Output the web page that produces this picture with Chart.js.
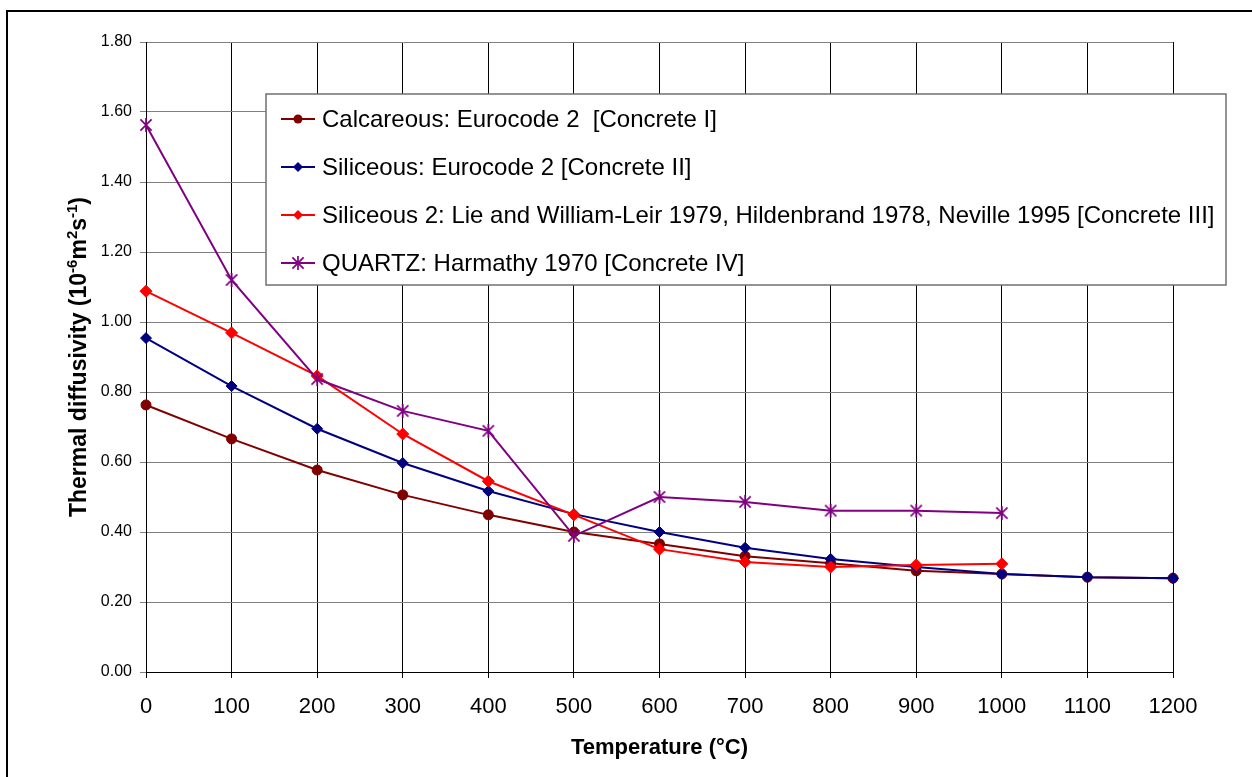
<!DOCTYPE html>
<html>
<head>
<meta charset="utf-8">
<script src="https://cdn.jsdelivr.net/npm/chart.js@4/dist/chart.umd.min.js"></script>
<style>
  html, body { margin: 0; padding: 0; background: #fff; }
  #wrap { width: 1252px; height: 777px; position: relative; }
</style>
</head>
<body>
<div id="wrap"><canvas id="c" width="1252" height="777"></canvas></div>
<script>
// ---- Data ----
const temperatures = [0, 100, 200, 300, 400, 500, 600, 700, 800, 900, 1000, 1100, 1200];
const calcareous  = [0.763, 0.666, 0.577, 0.506, 0.449, 0.400, 0.366, 0.331, 0.311, 0.289, 0.280, 0.271, 0.268];
const siliceous   = [0.954, 0.817, 0.695, 0.597, 0.517, 0.451, 0.400, 0.355, 0.323, 0.300, 0.280, 0.271, 0.268];
const siliceous2  = [1.088, 0.969, 0.846, 0.680, 0.545, 0.449, 0.351, 0.314, 0.300, 0.306, 0.309];
const quartz      = [1.563, 1.120, 0.837, 0.746, 0.689, 0.389, 0.500, 0.486, 0.461, 0.461, 0.454];
const seriesLabels = [
  'Calcareous: Eurocode 2  [Concrete I]',
  'Siliceous: Eurocode 2 [Concrete II]',
  'Siliceous 2: Lie and William-Leir 1979, Hildenbrand 1978, Neville 1995 [Concrete III]',
  'QUARTZ: Harmathy 1970 [Concrete IV]'
];
const xTitle = 'Temperature (°C)';
const yTitleParts = [['Thermal diffusivity (10', false], ['-6', true], ['m', false], ['2', true], ['s', false], ['-1', true], [')', false]];

const colors = ['#800000', '#000080', '#FF0000', '#800080'];

function pts(vals) { return vals.map((v, i) => ({ x: temperatures[i], y: v })); }

// asterisk marker (Excel style star)
function makeStar(color, size) {
  const c = document.createElement('canvas');
  c.width = size; c.height = size;
  const g = c.getContext('2d');
  const m = size / 2, r = size / 2 - 1;
  g.strokeStyle = color; g.lineWidth = 1.7;
  g.beginPath();
  g.moveTo(m - r * 0.8, m - r * 0.8); g.lineTo(m + r * 0.8, m + r * 0.8);
  g.moveTo(m + r * 0.8, m - r * 0.8); g.lineTo(m - r * 0.8, m + r * 0.8);
  g.moveTo(m, m - r); g.lineTo(m, m + r);
  g.stroke();
  return c;
}
const starImg = makeStar(colors[3], 16);

const datasets = [
  { label: seriesLabels[0], data: pts(calcareous), borderColor: colors[0], backgroundColor: colors[0],
    pointStyle: 'circle', pointRadius: 5, borderWidth: 2, order: 3 },
  { label: seriesLabels[1], data: pts(siliceous), borderColor: colors[1], backgroundColor: colors[1],
    pointStyle: 'rectRot', pointRadius: 5.5, borderWidth: 2, order: 2 },
  { label: seriesLabels[2], data: pts(siliceous2), borderColor: colors[2], backgroundColor: colors[2],
    pointStyle: 'rectRot', pointRadius: 6, borderWidth: 2, order: 1 },
  { label: seriesLabels[3], data: pts(quartz), borderColor: colors[3], backgroundColor: colors[3],
    pointStyle: starImg, pointRadius: 7, borderWidth: 2, order: 0 }
];
datasets.forEach(d => { d.pointBorderWidth = 1; d.pointBorderColor = d.borderColor; d.tension = 0; d.fill = false; d.clip = false; });

const frameAndTitles = {
  id: 'frameAndTitles',
  beforeDraw(chart) {
    const ctx = chart.ctx;
    ctx.save();
    ctx.fillStyle = '#fff';
    ctx.fillRect(0, 0, chart.width, chart.height);
    ctx.restore();
  },
  afterDraw(chart) {
    const ctx = chart.ctx;
    const area = chart.chartArea;
    ctx.save();
    // outer frame
    ctx.strokeStyle = '#000'; ctx.lineWidth = 2;
    ctx.beginPath();
    ctx.moveTo(7, 777); ctx.lineTo(7, 11); ctx.lineTo(1252, 11);
    ctx.stroke();

    // x title
    ctx.fillStyle = '#000';
    ctx.font = 'bold 22px "Liberation Sans", Arial, sans-serif';
    ctx.textAlign = 'center'; ctx.textBaseline = 'alphabetic';
    ctx.fillText(xTitle, (area.left + area.right) / 2, 754);

    // y title, rotated, with superscripts
    const big = 'bold 23px "Liberation Sans", Arial, sans-serif';
    const small = 'bold 15px "Liberation Sans", Arial, sans-serif';
    let total = 0;
    yTitleParts.forEach(([t, sup]) => { ctx.font = sup ? small : big; total += ctx.measureText(t).width; });
    ctx.translate(86, (area.top + area.bottom) / 2);
    ctx.rotate(-Math.PI / 2);
    ctx.textAlign = 'left';
    let x = -total / 2;
    yTitleParts.forEach(([t, sup]) => {
      ctx.font = sup ? small : big;
      ctx.fillText(t, x, sup ? -9 : 0);
      x += ctx.measureText(t).width;
    });
    ctx.restore();

    // legend box
    ctx.save();
    const lx = 266, ly = 94, lw = 960, lh = 191;
    ctx.fillStyle = '#fff';
    ctx.fillRect(lx, ly, lw, lh);
    ctx.strokeStyle = '#707070'; ctx.lineWidth = 1.5;
    ctx.strokeRect(lx, ly, lw, lh);
    const rows = [119, 167, 215, 263];
    chart.data.datasets.forEach((ds, i) => {
      const y = rows[i];
      ctx.strokeStyle = ds.borderColor; ctx.lineWidth = 2;
      ctx.beginPath(); ctx.moveTo(281, y); ctx.lineTo(315, y); ctx.stroke();
      const mx = 298;
      ctx.fillStyle = ds.borderColor;
      if (ds.pointStyle === 'circle') {
        ctx.beginPath(); ctx.arc(mx, y, 4.5, 0, Math.PI * 2); ctx.fill();
      } else if (ds.pointStyle === 'rectRot') {
        const r = 5;
        ctx.beginPath(); ctx.moveTo(mx, y - r); ctx.lineTo(mx + r, y); ctx.lineTo(mx, y + r); ctx.lineTo(mx - r, y); ctx.closePath(); ctx.fill();
      } else {
        ctx.drawImage(ds.pointStyle, mx - 8, y - 8);
      }
      ctx.fillStyle = '#000';
      ctx.font = '24px "Liberation Sans", Arial, sans-serif';
      ctx.textAlign = 'left'; ctx.textBaseline = 'middle';
      ctx.fillText(ds.label, 322, y + 1);
    });
    ctx.restore();
  }
};

new Chart(document.getElementById('c'), {
  type: 'line',
  data: { datasets },
  options: {
    responsive: false,
    animation: false,
    layout: { padding: { left: 0, right: 79, top: 42, bottom: 0 } },
    plugins: { legend: { display: false }, tooltip: { enabled: false } },
    scales: {
      x: {
        type: 'linear', min: 0, max: 1200,
        ticks: { stepSize: 100, color: '#000', padding: 16,
                 font: { family: '"Liberation Sans", Arial, sans-serif', size: 22 },
                 maxRotation: 0, autoSkip: false, callback: v => String(v) },
        grid: { color: '#000', lineWidth: 1, tickLength: 6, drawOnChartArea: true },
        border: { color: '#000', width: 1 },
        afterFit(s) { s.height = 105; }
      },
      y: {
        min: 0, max: 1.8,
        ticks: { stepSize: 0.2, color: '#000', padding: 8,
                 font: { family: '"Liberation Sans", Arial, sans-serif', size: 16 },
                 callback: v => Number(v).toFixed(2) },
        grid: { color: '#808080', lineWidth: 1, tickLength: 6 },
        border: { color: '#000', width: 1 },
        afterFit(s) { s.width = 146; }
      }
    }
  },
  plugins: [frameAndTitles]
});
</script>
</body>
</html>
